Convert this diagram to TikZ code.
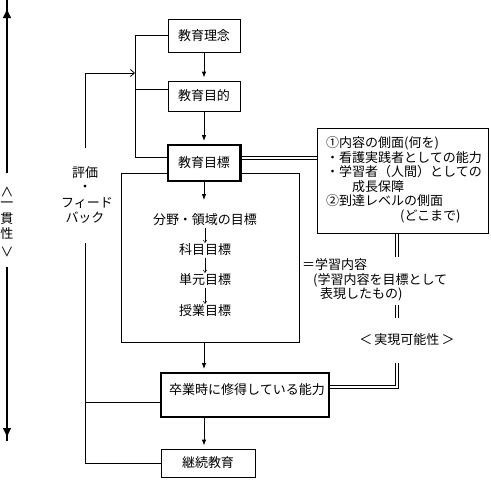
\documentclass[tikz,border=0pt]{standalone}
\usepackage{fontspec}
\setmainfont{Noto Sans CJK JP}
\usetikzlibrary{arrows.meta}
\pgfdeclarelayer{background}
\pgfsetlayers{background,main}
\begin{document}
\begin{tikzpicture}[x=1pt,y=-1pt,
  every node/.style={font=\fontsize{13pt}{15pt}\selectfont},
  box/.style={draw, line width=0.8pt, inner sep=0pt, fill=white},
  thickbox/.style={box, line width=2.4pt},
  txt/.style={inner sep=0pt},
  stxt/.style={inner sep=0pt, text height=10.5pt, text depth=1.5pt},
  ln/.style={line width=0.8pt},
  arr/.style={line width=0.8pt, -{Latex[length=6pt,width=4.5pt]}, shorten >=3pt},
  smallarr/.style={line width=0.5pt, -{To[length=3pt,width=4pt]}, shorten <=1.5pt, shorten >=1pt},
  dbl/.style={double distance=2.4pt, line width=0.7pt},
  axisln/.style={line width=2.2pt},
  axisarr/.style={line width=2.2pt, -{Latex[length=10pt,width=9pt]}}]
\useasboundingbox (0,0) rectangle (491,480);

% main column
\node[box, minimum width=72pt, minimum height=33pt] (rinen) at (204,35.5) {教育理念};
\node[box, minimum width=72pt, minimum height=30pt] (mokuteki) at (204,96) {教育目的};
\node[box, minimum width=178pt, minimum height=169pt] (bigbox) at (210,257.5) {};
\node[thickbox, minimum width=72.6pt, minimum height=35.6pt] (mokuhyo) at (204,163) {教育目標};

\node[stxt] (bunya) at (205,220) {分野・領域の目標};
\node[stxt] (kamoku) at (205,250) {科目目標};
\node[stxt] (tangen) at (205,280) {単元目標};
\node[stxt] (jugyo) at (205,311) {授業目標};
\draw[smallarr] (bunya) -- (kamoku);
\draw[smallarr] (kamoku) -- (tangen);
\draw[smallarr] (tangen) -- (jugyo);

\node[thickbox, minimum width=167.6pt, minimum height=43.6pt] (grad) at (245,395) {};
\node[txt] (gradt) at (247,390) {卒業時に修得している能力};
\node[box, minimum width=94pt, minimum height=28pt] (keizoku) at (208,463) {継続教育};

% arrows down the column
\coordinate (in1) at (204,200);
\draw[arr] (rinen) -- (mokuteki);
\draw[arr] (mokuteki) -- (mokuhyo);
\draw[line width=0.8pt, -{Latex[length=6pt,width=4.5pt]}] (mokuhyo) -- (in1);
\draw[arr] (bigbox.south -| mokuhyo) -- (grad.north -| mokuhyo);
\draw[arr] (grad.south -| mokuhyo) -- (keizoku.north -| mokuhyo);

% bracket on the left of the top boxes
\coordinate (b2) at (135,89);
\coordinate (b3) at (135,157);
\coordinate (brk) at (135,73);
\draw[ln] (rinen.west) -| (b3) -- (b3 -| mokuhyo.west);
\draw[ln] (b2) -- (b2 -| mokuteki.west);

% feedback loop
\node[txt] (fb1) at (85,173) {評価};
\node[txt] (fb2) at (85,188) {・};
\node[txt] (fb3) at (87,203) {フィード};
\node[txt] (fb4) at (85,218) {バック};
\coordinate (fbA) at (85,148);
\coordinate (fbB) at (85,243);
\coordinate (gw) at ([yshift=-7pt]grad.west);
\draw[ln, -{Straight Barb[length=4pt,width=7pt]}] (fbA) |- (brk);
\draw[ln] (fbB) |- (keizoku.west);
\draw[ln] (gw -| fbB) -- (gw);

% right box
\node[box, minimum width=171pt, minimum height=105pt] (rb) at (402.5,180.5) {};
\node[txt, anchor=west] (r1) at (326,143) {①内容の側面(何を)};
\node[txt, anchor=west] (r2) at (326,157.5) {・看護実践者としての能力};
\node[txt, anchor=west] (r3) at (326,172) {・学習者（人間）としての};
\node[txt, anchor=west] (r4) at (352,187) {成長保障};
\node[txt, anchor=west] (r5) at (326,201) {②到達レベルの側面};
\node[txt, anchor=west] (r6) at (400,216) {(どこまで)};

% middle texts
\node[txt, anchor=west] (g1) at (302,265) {＝学習内容};
\node[txt, anchor=west] (g2) at (313,280) {(学習内容を目標として};
\node[txt, anchor=west] (g3) at (320,294) {表現したもの)};
\node[txt] (jitsu) at (407,340) {＜\,実現可能性\,＞};

% double lines
\begin{pgfonlayer}{background}
\coordinate (dA) at ([yshift=5pt]mokuhyo.east);
\coordinate (v1) at (397,257);
\coordinate (v2) at (397,305);
\coordinate (v3) at (397,318);
\coordinate (v4) at (397,363);
\coordinate (gE) at ([yshift=8pt]grad.east);
\draw[dbl] (dA) -- (dA -| rb.west);
\draw[dbl] (v1 |- rb.south) -- (v1);
\draw[dbl] (v2) -- (v3);
\draw[dbl] (v4) |- (gE);
\end{pgfonlayer}

% consistency axis
\node[txt] (ax1) at (7,192) {\rotatebox{-90}{＜}};
\node[txt] (ax2) at (7,205) {一};
\node[txt] (ax3) at (7,219) {貫};
\node[txt] (ax4) at (7,234) {性};
\node[txt] (ax5) at (7,252) {\rotatebox{-90}{＞}};
\coordinate (axa) at (7,173);
\coordinate (axt) at (7,0);
\coordinate (axt2) at (7,8);
\coordinate (axb) at (7,267);
\coordinate (axbot) at (7,441);
\coordinate (axb2) at (7,438);
\draw[axisln] (axa) -- (axt);
\draw[axisarr] (axa) -- (axt2);
\draw[axisln] (axb) -- (axbot);
\draw[axisarr] (axb) -- (axb2);
\end{tikzpicture}
\end{document}
